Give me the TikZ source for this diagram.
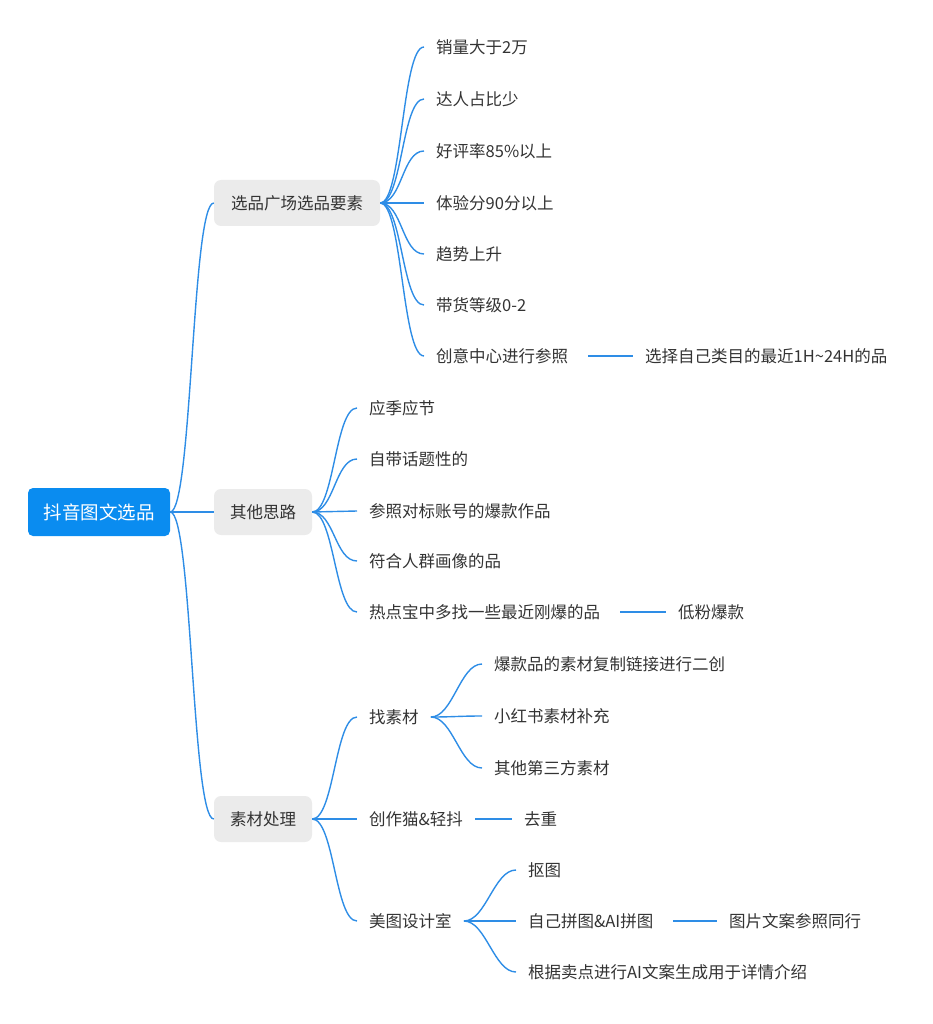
\documentclass[tikz,border=0pt]{standalone}
\usepackage{fontspec}
\setmainfont{Noto Sans CJK SC}
\definecolor{mapblue}{HTML}{0A8CF0}
\definecolor{linkblue}{HTML}{2E8DE6}
\definecolor{boxgrey}{HTML}{EBEBEB}
\definecolor{txt}{HTML}{333333}
\tikzset{
  root/.style={fill=mapblue, rounded corners=5pt, text=white, font=\fontsize{18.5}{22}\selectfont,
    minimum width=142pt, minimum height=48pt, inner sep=0pt},
  topic/.style={fill=boxgrey, rounded corners=7pt, text=txt, font=\fontsize{16.5}{19}\selectfont,
    minimum height=46pt, inner xsep=0pt, inner ysep=0pt},
  leaf/.style={anchor=west, text=txt, font=\fontsize{16.5}{19}\selectfont, inner xsep=12pt, inner ysep=2pt},
  link/.style={draw=linkblue, line width=1.4pt},
}
\newcommand\curvelink[2]{\draw[link] (#1.east) .. controls +(22,0) and +(-22,0) .. (#2.west);}
\begin{document}
\begin{tikzpicture}[x=1pt,y=-1pt]
  \useasboundingbox (0,0) rectangle (932,1024);
  % root and topics
  \node[root] (r) at (99,512) {抖音图文选品};
  \node[topic, minimum width=166pt] (t1) at (297,203) {选品广场选品要素};
  \node[topic, minimum width=98pt] (t2) at (263,512) {其他思路};
  \node[topic, minimum width=98pt] (t3) at (263,819) {素材处理};
  \foreach \t in {t1,t2,t3} {\curvelink{r}{\t}}
  % topic 1
  \node[leaf] (a1) at (424,47) {销量大于2万};
  \node[leaf] (a2) at (424,99) {达人占比少};
  \node[leaf] (a3) at (424,151) {好评率85\%以上};
  \node[leaf] (a4) at (424,203) {体验分90分以上};
  \node[leaf] (a5) at (424,254) {趋势上升};
  \node[leaf] (a6) at (424,305) {带货等级0-2};
  \node[leaf] (a7) at (424,356) {创意中心进行参照};
  \node[leaf] (a8) at (633,356) {选择自己类目的最近1H\char"007E 24H的品};
  \foreach \i in {1,...,7} {\curvelink{t1}{a\i}}
  \draw[link] ([xshift=8pt]a7.east) -- (a8.west);
  % topic 2
  \node[leaf] (b1) at (357,408) {应季应节};
  \node[leaf] (b2) at (357,459) {自带话题性的};
  \node[leaf] (b3) at (357,511) {参照对标账号的爆款作品};
  \node[leaf] (b4) at (357,561) {符合人群画像的品};
  \node[leaf] (b5) at (357,612) {热点宝中多找一些最近刚爆的品};
  \node[leaf] (b6) at (666,612) {低粉爆款};
  \foreach \i in {1,...,5} {\curvelink{t2}{b\i}}
  \draw[link] ([xshift=8pt]b5.east) -- (b6.west);
  % topic 3
  \node[leaf] (c1) at (357,717) {找素材};
  \node[leaf] (c2) at (357,819) {创作猫\&轻抖};
  \node[leaf] (c3) at (357,921) {美图设计室};
  \foreach \i in {1,2,3} {\curvelink{t3}{c\i}}
  \node[leaf] (d1) at (482,664) {爆款品的素材复制链接进行二创};
  \node[leaf] (d2) at (482,716) {小红书素材补充};
  \node[leaf] (d3) at (482,768) {其他第三方素材};
  \foreach \i in {1,2,3} {\curvelink{c1}{d\i}}
  \node[leaf] (e1) at (512,819) {去重};
  \draw[link] (c2.east) -- (e1.west);
  \node[leaf] (f1) at (516,870) {抠图};
  \node[leaf] (f2) at (516,921) {自己拼图\&AI拼图};
  \node[leaf] (f3) at (516,972) {根据卖点进行AI文案生成用于详情介绍};
  \foreach \i in {1,2,3} {\curvelink{c3}{f\i}}
  \node[leaf] (g1) at (717,921) {图片文案参照同行};
  \draw[link] ([xshift=8pt]f2.east) -- (g1.west);
\end{tikzpicture}
\end{document}
